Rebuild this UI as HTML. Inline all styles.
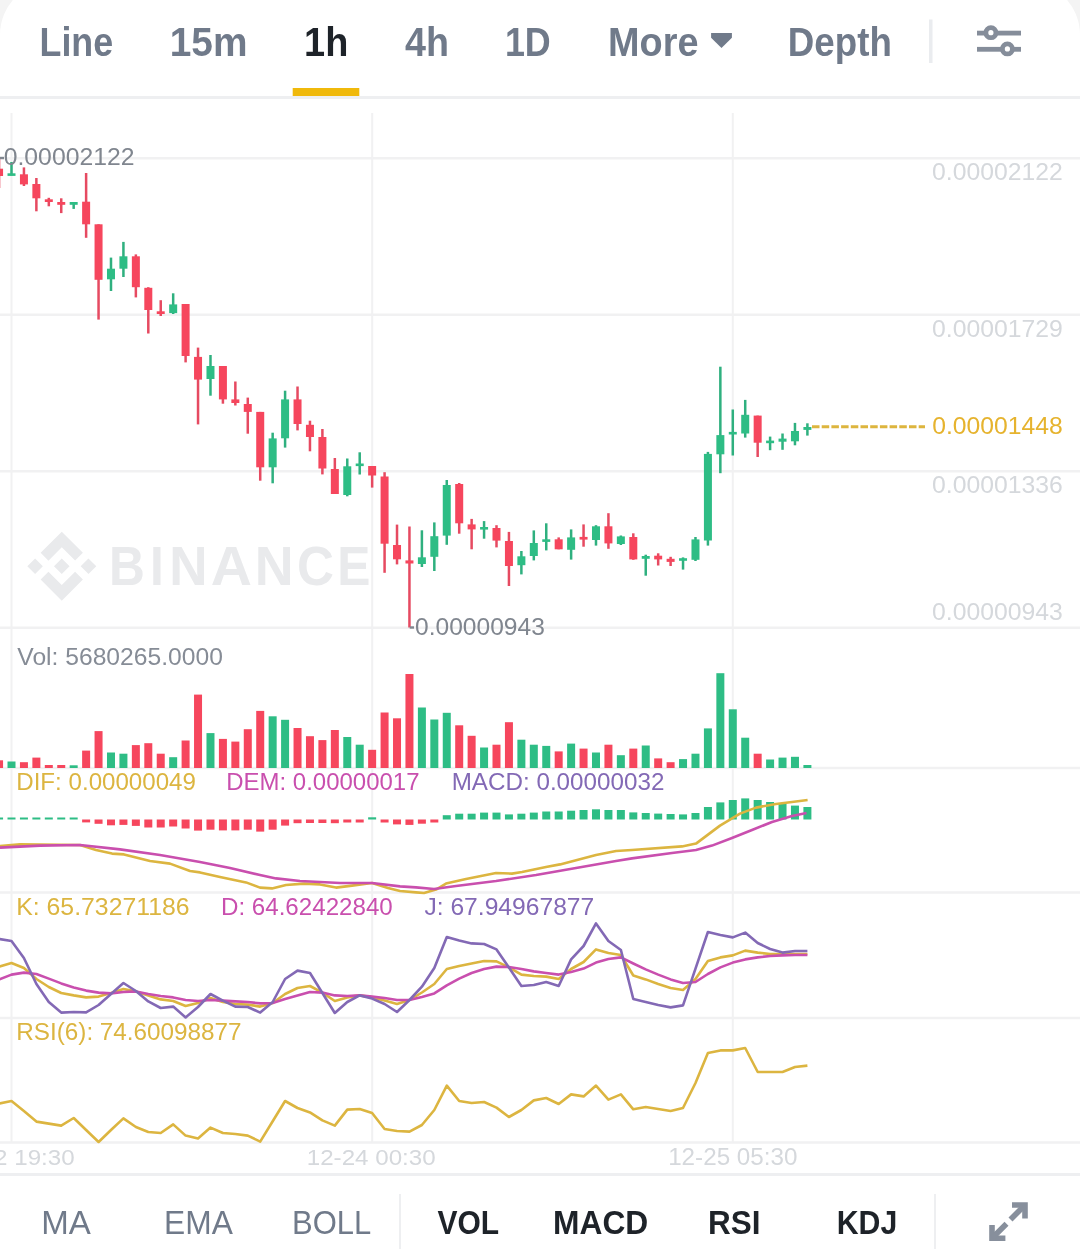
<!DOCTYPE html>
<html><head><meta charset="utf-8">
<style>
html,body{margin:0;padding:0;}
body{width:1080px;height:1259px;position:relative;overflow:hidden;background:#f4f4f4;}
#card{position:absolute;left:0;top:-19px;width:1080px;height:1278px;background:#fff;border-radius:54px 54px 0 0;}
svg.main{position:absolute;left:0;top:0;will-change:transform;}
.t{position:absolute;}
svg{position:absolute;left:0;top:0;}
text{font-family:"Liberation Sans",sans-serif;}
</style></head><body><div id="card"></div>
<svg class="main" width="1080" height="1259" viewBox="0 0 1080 1259">
<text transform="translate(108.99,585) scale(0.9029,1)" font-weight="bold" font-size="55" fill="#e9eaec">B</text>
<text transform="translate(150.1,585) scale(0.9,1)" font-weight="bold" font-size="55" fill="#e9eaec">I</text>
<text transform="translate(169.31,585) scale(0.9647,1)" font-weight="bold" font-size="55" fill="#e9eaec">N</text>
<text transform="translate(210.66,585) scale(1.0368,1)" font-weight="bold" font-size="55" fill="#e9eaec">A</text>
<text transform="translate(254.66,585) scale(0.9794,1)" font-weight="bold" font-size="55" fill="#e9eaec">N</text>
<text transform="translate(297.04,585) scale(0.9297,1)" font-weight="bold" font-size="55" fill="#e9eaec">C</text>
<text transform="translate(337.29,585) scale(0.9031,1)" font-weight="bold" font-size="55" fill="#e9eaec">E</text>
<line x1="0" y1="158.3" x2="1080" y2="158.3" stroke="#f1f1f2" stroke-width="2.4"/>
<line x1="0" y1="314.8" x2="1080" y2="314.8" stroke="#f1f1f2" stroke-width="2.4"/>
<line x1="0" y1="471.3" x2="1080" y2="471.3" stroke="#f1f1f2" stroke-width="2.4"/>
<line x1="0" y1="627.8" x2="1080" y2="627.8" stroke="#f1f1f2" stroke-width="2.4"/>
<line x1="0" y1="768" x2="1080" y2="768" stroke="#f1f1f2" stroke-width="2.4"/>
<line x1="0" y1="892.5" x2="1080" y2="892.5" stroke="#f1f1f2" stroke-width="2.4"/>
<line x1="0" y1="1018" x2="1080" y2="1018" stroke="#f1f1f2" stroke-width="2.4"/>
<line x1="0" y1="1142.5" x2="1080" y2="1142.5" stroke="#f1f1f2" stroke-width="2.4"/>
<line x1="11.5" y1="113" x2="11.5" y2="1142.5" stroke="#f1f1f2" stroke-width="2"/>
<line x1="372.2" y1="113" x2="372.2" y2="1142.5" stroke="#f1f1f2" stroke-width="2"/>
<line x1="732.8" y1="113" x2="732.8" y2="1142.5" stroke="#f1f1f2" stroke-width="2"/>
<g transform="translate(27.3,531.7) scale(2.875)" fill="#e9eaec"><path d="M16.624 13.9202l2.7175 2.7154-7.353 7.353-7.353-7.352 2.7175-2.7164 4.6355 4.6595 4.6356-4.6595zm4.6366-4.6366L24 12l-2.7154 2.7164L18.5682 12l2.6924-2.7164zm-9.272.001l2.7163 2.6914-2.7164 2.7174v-.001L9.2721 12l2.7164-2.7154zm-9.2722-.001L5.4088 12l-2.6914 2.6924L0 12l2.7164-2.7164zM11.9885.0115l7.353 7.329-2.7174 2.7154-4.6356-4.6356-4.6355 4.6595-2.7174-2.7154 7.353-7.353z"/></g>
<rect x="-2.19" y="158.5" width="2.5" height="29.5" fill="#e64a61"/>
<rect x="-4.94" y="168.7" width="8" height="7.3" fill="#f6465d"/>
<rect x="10.25" y="162.0" width="2.5" height="13.5" fill="#2fb07f"/>
<rect x="7.50" y="173.3" width="8" height="2.6" fill="#2ebd85"/>
<rect x="22.69" y="167.4" width="2.5" height="18.6" fill="#e64a61"/>
<rect x="19.94" y="174.3" width="8" height="10.1" fill="#f6465d"/>
<rect x="35.12" y="178.0" width="2.5" height="33.3" fill="#e64a61"/>
<rect x="32.37" y="184.0" width="8" height="14.3" fill="#f6465d"/>
<rect x="47.56" y="197.8" width="2.5" height="8.5" fill="#e64a61"/>
<rect x="44.81" y="199.3" width="8" height="2.7" fill="#f6465d"/>
<rect x="59.99" y="198.3" width="2.5" height="14.8" fill="#e64a61"/>
<rect x="57.24" y="202.0" width="8" height="2.8" fill="#f6465d"/>
<rect x="72.43" y="202.0" width="2.5" height="6.9" fill="#2fb07f"/>
<rect x="69.68" y="202.0" width="8" height="2.8" fill="#2ebd85"/>
<rect x="84.87" y="173.0" width="2.5" height="64.8" fill="#e64a61"/>
<rect x="82.12" y="201.7" width="8" height="22.6" fill="#f6465d"/>
<rect x="97.30" y="224.3" width="2.5" height="95.3" fill="#e64a61"/>
<rect x="94.55" y="224.3" width="8" height="55.5" fill="#f6465d"/>
<rect x="109.74" y="257.6" width="2.5" height="33.4" fill="#2fb07f"/>
<rect x="106.99" y="268.7" width="8" height="10.6" fill="#2ebd85"/>
<rect x="122.17" y="241.9" width="2.5" height="35.1" fill="#2fb07f"/>
<rect x="119.42" y="256.3" width="8" height="12.4" fill="#2ebd85"/>
<rect x="134.61" y="254.4" width="2.5" height="43.0" fill="#e64a61"/>
<rect x="131.86" y="256.3" width="8" height="30.9" fill="#f6465d"/>
<rect x="147.05" y="287.2" width="2.5" height="46.3" fill="#e64a61"/>
<rect x="144.30" y="287.8" width="8" height="22.2" fill="#f6465d"/>
<rect x="159.48" y="300.2" width="2.5" height="15.8" fill="#e64a61"/>
<rect x="156.73" y="311.3" width="8" height="2.7" fill="#f6465d"/>
<rect x="171.92" y="293.3" width="2.5" height="20.7" fill="#2fb07f"/>
<rect x="169.17" y="304.4" width="8" height="8.7" fill="#2ebd85"/>
<rect x="184.35" y="304.0" width="2.5" height="58.4" fill="#e64a61"/>
<rect x="181.60" y="304.0" width="8" height="52.0" fill="#f6465d"/>
<rect x="196.79" y="347.6" width="2.5" height="76.8" fill="#e64a61"/>
<rect x="194.04" y="356.9" width="8" height="22.7" fill="#f6465d"/>
<rect x="209.23" y="355.0" width="2.5" height="40.7" fill="#2fb07f"/>
<rect x="206.48" y="366.0" width="8" height="13.0" fill="#2ebd85"/>
<rect x="221.66" y="366.0" width="2.5" height="37.7" fill="#e64a61"/>
<rect x="218.91" y="366.0" width="8" height="33.4" fill="#f6465d"/>
<rect x="234.10" y="381.5" width="2.5" height="24.0" fill="#e64a61"/>
<rect x="231.35" y="399.4" width="8" height="3.6" fill="#f6465d"/>
<rect x="246.53" y="397.6" width="2.5" height="36.1" fill="#e64a61"/>
<rect x="243.78" y="404.0" width="8" height="7.9" fill="#f6465d"/>
<rect x="258.97" y="411.9" width="2.5" height="68.8" fill="#e64a61"/>
<rect x="256.22" y="411.9" width="8" height="55.4" fill="#f6465d"/>
<rect x="271.41" y="432.7" width="2.5" height="50.6" fill="#2fb07f"/>
<rect x="268.66" y="438.4" width="8" height="28.9" fill="#2ebd85"/>
<rect x="283.84" y="390.7" width="2.5" height="56.9" fill="#2fb07f"/>
<rect x="281.09" y="399.4" width="8" height="38.9" fill="#2ebd85"/>
<rect x="296.28" y="386.5" width="2.5" height="43.9" fill="#e64a61"/>
<rect x="293.53" y="399.4" width="8" height="24.6" fill="#f6465d"/>
<rect x="308.71" y="420.7" width="2.5" height="30.6" fill="#e64a61"/>
<rect x="305.96" y="424.8" width="8" height="12.2" fill="#f6465d"/>
<rect x="321.15" y="429.0" width="2.5" height="45.4" fill="#e64a61"/>
<rect x="318.40" y="437.0" width="8" height="31.5" fill="#f6465d"/>
<rect x="333.59" y="458.0" width="2.5" height="36.0" fill="#e64a61"/>
<rect x="330.84" y="469.0" width="8" height="25.0" fill="#f6465d"/>
<rect x="346.02" y="458.5" width="2.5" height="37.8" fill="#2fb07f"/>
<rect x="343.27" y="466.3" width="8" height="28.7" fill="#2ebd85"/>
<rect x="358.46" y="452.3" width="2.5" height="22.2" fill="#2fb07f"/>
<rect x="355.71" y="463.5" width="8" height="2.6" fill="#2ebd85"/>
<rect x="370.89" y="466.0" width="2.5" height="21.6" fill="#e64a61"/>
<rect x="368.14" y="466.0" width="8" height="9.5" fill="#f6465d"/>
<rect x="383.33" y="472.2" width="2.5" height="100.6" fill="#e64a61"/>
<rect x="380.58" y="476.5" width="8" height="67.2" fill="#f6465d"/>
<rect x="395.77" y="524.6" width="2.5" height="39.8" fill="#e64a61"/>
<rect x="393.02" y="545.0" width="8" height="14.3" fill="#f6465d"/>
<rect x="408.20" y="526.5" width="2.5" height="101.0" fill="#e64a61"/>
<rect x="405.45" y="560.4" width="8" height="3.1" fill="#f6465d"/>
<rect x="420.64" y="530.3" width="2.5" height="36.7" fill="#2fb07f"/>
<rect x="417.89" y="557.3" width="8" height="6.7" fill="#2ebd85"/>
<rect x="433.07" y="522.4" width="2.5" height="48.6" fill="#2fb07f"/>
<rect x="430.32" y="536.2" width="8" height="20.6" fill="#2ebd85"/>
<rect x="445.51" y="480.0" width="2.5" height="64.8" fill="#2fb07f"/>
<rect x="442.76" y="485.0" width="8" height="50.6" fill="#2ebd85"/>
<rect x="457.95" y="483.0" width="2.5" height="50.7" fill="#e64a61"/>
<rect x="455.20" y="484.0" width="8" height="39.3" fill="#f6465d"/>
<rect x="470.38" y="518.9" width="2.5" height="30.4" fill="#e64a61"/>
<rect x="467.63" y="524.4" width="8" height="5.0" fill="#f6465d"/>
<rect x="482.82" y="521.1" width="2.5" height="17.6" fill="#2fb07f"/>
<rect x="480.07" y="527.0" width="8" height="2.6" fill="#2ebd85"/>
<rect x="495.25" y="525.2" width="2.5" height="22.2" fill="#e64a61"/>
<rect x="492.50" y="528.0" width="8" height="12.6" fill="#f6465d"/>
<rect x="507.69" y="531.9" width="2.5" height="54.1" fill="#e64a61"/>
<rect x="504.94" y="541.0" width="8" height="25.0" fill="#f6465d"/>
<rect x="520.13" y="551.0" width="2.5" height="23.4" fill="#2fb07f"/>
<rect x="517.38" y="556.3" width="8" height="8.9" fill="#2ebd85"/>
<rect x="532.56" y="530.4" width="2.5" height="30.0" fill="#2fb07f"/>
<rect x="529.81" y="543.0" width="8" height="13.0" fill="#2ebd85"/>
<rect x="545.00" y="523.3" width="2.5" height="27.1" fill="#2fb07f"/>
<rect x="542.25" y="539.3" width="8" height="2.6" fill="#2ebd85"/>
<rect x="557.43" y="537.4" width="2.5" height="11.9" fill="#e64a61"/>
<rect x="554.68" y="539.3" width="8" height="10.0" fill="#f6465d"/>
<rect x="569.87" y="529.4" width="2.5" height="30.2" fill="#2fb07f"/>
<rect x="567.12" y="537.4" width="8" height="12.4" fill="#2ebd85"/>
<rect x="582.31" y="524.4" width="2.5" height="22.3" fill="#e64a61"/>
<rect x="579.56" y="536.9" width="8" height="2.7" fill="#f6465d"/>
<rect x="594.74" y="525.2" width="2.5" height="20.4" fill="#2fb07f"/>
<rect x="591.99" y="526.3" width="8" height="13.7" fill="#2ebd85"/>
<rect x="607.18" y="513.2" width="2.5" height="35.6" fill="#e64a61"/>
<rect x="604.43" y="526.3" width="8" height="17.1" fill="#f6465d"/>
<rect x="619.61" y="535.5" width="2.5" height="9.5" fill="#2fb07f"/>
<rect x="616.86" y="536.4" width="8" height="7.6" fill="#2ebd85"/>
<rect x="632.05" y="533.3" width="2.5" height="26.5" fill="#e64a61"/>
<rect x="629.30" y="537.0" width="8" height="22.4" fill="#f6465d"/>
<rect x="644.49" y="554.7" width="2.5" height="21.0" fill="#2fb07f"/>
<rect x="641.74" y="556.0" width="8" height="2.8" fill="#2ebd85"/>
<rect x="656.92" y="553.3" width="2.5" height="12.2" fill="#e64a61"/>
<rect x="654.17" y="555.7" width="8" height="3.7" fill="#f6465d"/>
<rect x="669.36" y="556.8" width="2.5" height="9.2" fill="#e64a61"/>
<rect x="666.61" y="558.8" width="8" height="3.1" fill="#f6465d"/>
<rect x="681.79" y="557.4" width="2.5" height="12.2" fill="#2fb07f"/>
<rect x="679.04" y="558.2" width="8" height="2.6" fill="#2ebd85"/>
<rect x="694.23" y="537.0" width="2.5" height="24.0" fill="#2fb07f"/>
<rect x="691.48" y="539.4" width="8" height="20.4" fill="#2ebd85"/>
<rect x="706.67" y="451.9" width="2.5" height="93.7" fill="#2fb07f"/>
<rect x="703.92" y="453.9" width="8" height="86.6" fill="#2ebd85"/>
<rect x="719.10" y="366.7" width="2.5" height="106.5" fill="#2fb07f"/>
<rect x="716.35" y="435.1" width="8" height="19.2" fill="#2ebd85"/>
<rect x="731.54" y="409.5" width="2.5" height="46.0" fill="#2fb07f"/>
<rect x="728.79" y="431.9" width="8" height="2.6" fill="#2ebd85"/>
<rect x="743.97" y="399.9" width="2.5" height="37.7" fill="#2fb07f"/>
<rect x="741.22" y="414.8" width="8" height="18.7" fill="#2ebd85"/>
<rect x="756.41" y="415.6" width="2.5" height="41.4" fill="#e64a61"/>
<rect x="753.66" y="415.6" width="8" height="27.1" fill="#f6465d"/>
<rect x="768.85" y="436.6" width="2.5" height="13.6" fill="#2fb07f"/>
<rect x="766.10" y="440.6" width="8" height="2.6" fill="#2ebd85"/>
<rect x="781.28" y="433.5" width="2.5" height="16.3" fill="#2fb07f"/>
<rect x="778.53" y="438.6" width="8" height="3.1" fill="#2ebd85"/>
<rect x="793.72" y="422.9" width="2.5" height="22.4" fill="#2fb07f"/>
<rect x="790.97" y="431.0" width="8" height="10.3" fill="#2ebd85"/>
<rect x="806.15" y="423.3" width="2.5" height="12.3" fill="#2fb07f"/>
<rect x="803.40" y="427.0" width="8" height="2.9" fill="#2ebd85"/>
<rect x="-4.94" y="760.3" width="8" height="7.7" fill="#f6465d"/>
<rect x="7.50" y="761.5" width="8" height="6.5" fill="#2ebd85"/>
<rect x="19.94" y="762.2" width="8" height="5.8" fill="#f6465d"/>
<rect x="32.37" y="757.6" width="8" height="10.4" fill="#f6465d"/>
<rect x="44.81" y="765.0" width="8" height="3.0" fill="#f6465d"/>
<rect x="57.24" y="765.0" width="8" height="3.0" fill="#f6465d"/>
<rect x="69.68" y="765.3" width="8" height="2.7" fill="#2ebd85"/>
<rect x="82.12" y="750.6" width="8" height="17.4" fill="#f6465d"/>
<rect x="94.55" y="731.1" width="8" height="36.9" fill="#f6465d"/>
<rect x="106.99" y="752.5" width="8" height="15.5" fill="#2ebd85"/>
<rect x="119.42" y="753.7" width="8" height="14.3" fill="#2ebd85"/>
<rect x="131.86" y="745.1" width="8" height="22.9" fill="#f6465d"/>
<rect x="144.30" y="743.2" width="8" height="24.8" fill="#f6465d"/>
<rect x="156.73" y="753.7" width="8" height="14.3" fill="#f6465d"/>
<rect x="169.17" y="757.2" width="8" height="10.8" fill="#2ebd85"/>
<rect x="181.60" y="740.5" width="8" height="27.5" fill="#f6465d"/>
<rect x="194.04" y="694.6" width="8" height="73.4" fill="#f6465d"/>
<rect x="206.48" y="733.1" width="8" height="34.9" fill="#2ebd85"/>
<rect x="218.91" y="738.9" width="8" height="29.1" fill="#f6465d"/>
<rect x="231.35" y="741.6" width="8" height="26.4" fill="#f6465d"/>
<rect x="243.78" y="729.2" width="8" height="38.8" fill="#f6465d"/>
<rect x="256.22" y="710.9" width="8" height="57.1" fill="#f6465d"/>
<rect x="268.66" y="716.3" width="8" height="51.7" fill="#2ebd85"/>
<rect x="281.09" y="719.8" width="8" height="48.2" fill="#2ebd85"/>
<rect x="293.53" y="728.0" width="8" height="40.0" fill="#f6465d"/>
<rect x="305.96" y="736.2" width="8" height="31.8" fill="#f6465d"/>
<rect x="318.40" y="740.1" width="8" height="27.9" fill="#f6465d"/>
<rect x="330.84" y="730.0" width="8" height="38.0" fill="#f6465d"/>
<rect x="343.27" y="737.0" width="8" height="31.0" fill="#2ebd85"/>
<rect x="355.71" y="744.7" width="8" height="23.3" fill="#2ebd85"/>
<rect x="368.14" y="749.8" width="8" height="18.2" fill="#f6465d"/>
<rect x="380.58" y="712.5" width="8" height="55.5" fill="#f6465d"/>
<rect x="393.02" y="718.3" width="8" height="49.7" fill="#f6465d"/>
<rect x="405.45" y="674.0" width="8" height="94.0" fill="#f6465d"/>
<rect x="417.89" y="707.5" width="8" height="60.5" fill="#2ebd85"/>
<rect x="430.32" y="719.5" width="8" height="48.5" fill="#2ebd85"/>
<rect x="442.76" y="712.8" width="8" height="55.2" fill="#2ebd85"/>
<rect x="455.20" y="725.3" width="8" height="42.7" fill="#f6465d"/>
<rect x="467.63" y="735.8" width="8" height="32.2" fill="#f6465d"/>
<rect x="480.07" y="747.5" width="8" height="20.5" fill="#2ebd85"/>
<rect x="492.50" y="744.7" width="8" height="23.3" fill="#f6465d"/>
<rect x="504.94" y="722.2" width="8" height="45.8" fill="#f6465d"/>
<rect x="517.38" y="739.7" width="8" height="28.3" fill="#2ebd85"/>
<rect x="529.81" y="744.7" width="8" height="23.3" fill="#2ebd85"/>
<rect x="542.25" y="745.9" width="8" height="22.1" fill="#2ebd85"/>
<rect x="554.68" y="751.4" width="8" height="16.6" fill="#f6465d"/>
<rect x="567.12" y="743.6" width="8" height="24.4" fill="#2ebd85"/>
<rect x="579.56" y="748.6" width="8" height="19.4" fill="#f6465d"/>
<rect x="591.99" y="752.5" width="8" height="15.5" fill="#2ebd85"/>
<rect x="604.43" y="744.7" width="8" height="23.3" fill="#f6465d"/>
<rect x="616.86" y="755.2" width="8" height="12.8" fill="#2ebd85"/>
<rect x="629.30" y="748.6" width="8" height="19.4" fill="#f6465d"/>
<rect x="641.74" y="745.5" width="8" height="22.5" fill="#2ebd85"/>
<rect x="654.17" y="758.4" width="8" height="9.6" fill="#f6465d"/>
<rect x="666.61" y="762.2" width="8" height="5.8" fill="#f6465d"/>
<rect x="679.04" y="759.1" width="8" height="8.9" fill="#2ebd85"/>
<rect x="691.48" y="753.7" width="8" height="14.3" fill="#2ebd85"/>
<rect x="703.92" y="728.4" width="8" height="39.6" fill="#2ebd85"/>
<rect x="716.35" y="673.2" width="8" height="94.8" fill="#2ebd85"/>
<rect x="728.79" y="709.3" width="8" height="58.7" fill="#2ebd85"/>
<rect x="741.22" y="737.7" width="8" height="30.3" fill="#2ebd85"/>
<rect x="753.66" y="753.7" width="8" height="14.3" fill="#f6465d"/>
<rect x="766.10" y="759.5" width="8" height="8.5" fill="#2ebd85"/>
<rect x="778.53" y="757.6" width="8" height="10.4" fill="#2ebd85"/>
<rect x="790.97" y="756.8" width="8" height="11.2" fill="#2ebd85"/>
<rect x="803.40" y="765.0" width="8" height="3.0" fill="#2ebd85"/>
<rect x="-4.94" y="817.5" width="8" height="2.0" fill="#2ebd85"/>
<rect x="7.50" y="817.5" width="8" height="2.0" fill="#2ebd85"/>
<rect x="19.94" y="817.5" width="8" height="2.0" fill="#2ebd85"/>
<rect x="32.37" y="817.5" width="8" height="2.0" fill="#2ebd85"/>
<rect x="44.81" y="817.5" width="8" height="2.0" fill="#2ebd85"/>
<rect x="57.24" y="817.5" width="8" height="2.0" fill="#2ebd85"/>
<rect x="69.68" y="817.5" width="8" height="2.0" fill="#2ebd85"/>
<rect x="82.12" y="819.5" width="8" height="2.9" fill="#f6465d"/>
<rect x="94.55" y="819.5" width="8" height="4.3" fill="#f6465d"/>
<rect x="106.99" y="819.5" width="8" height="5.8" fill="#f6465d"/>
<rect x="119.42" y="819.5" width="8" height="5.4" fill="#f6465d"/>
<rect x="131.86" y="819.5" width="8" height="6.4" fill="#f6465d"/>
<rect x="144.30" y="819.5" width="8" height="8.0" fill="#f6465d"/>
<rect x="156.73" y="819.5" width="8" height="8.0" fill="#f6465d"/>
<rect x="169.17" y="819.5" width="8" height="7.0" fill="#f6465d"/>
<rect x="181.60" y="819.5" width="8" height="9.0" fill="#f6465d"/>
<rect x="194.04" y="819.5" width="8" height="11.1" fill="#f6465d"/>
<rect x="206.48" y="819.5" width="8" height="10.2" fill="#f6465d"/>
<rect x="218.91" y="819.5" width="8" height="10.9" fill="#f6465d"/>
<rect x="231.35" y="819.5" width="8" height="10.9" fill="#f6465d"/>
<rect x="243.78" y="819.5" width="8" height="10.2" fill="#f6465d"/>
<rect x="256.22" y="819.5" width="8" height="12.1" fill="#f6465d"/>
<rect x="268.66" y="819.5" width="8" height="10.2" fill="#f6465d"/>
<rect x="281.09" y="819.5" width="8" height="6.1" fill="#f6465d"/>
<rect x="293.53" y="819.5" width="8" height="3.7" fill="#f6465d"/>
<rect x="305.96" y="819.5" width="8" height="3.5" fill="#f6465d"/>
<rect x="318.40" y="819.5" width="8" height="3.5" fill="#f6465d"/>
<rect x="330.84" y="819.5" width="8" height="3.7" fill="#f6465d"/>
<rect x="343.27" y="819.5" width="8" height="3.0" fill="#f6465d"/>
<rect x="355.71" y="819.5" width="8" height="3.0" fill="#f6465d"/>
<rect x="368.14" y="817.3" width="8" height="2.2" fill="#2ebd85"/>
<rect x="380.58" y="819.5" width="8" height="3.0" fill="#f6465d"/>
<rect x="393.02" y="819.5" width="8" height="4.9" fill="#f6465d"/>
<rect x="405.45" y="819.5" width="8" height="5.4" fill="#f6465d"/>
<rect x="417.89" y="819.5" width="8" height="4.2" fill="#f6465d"/>
<rect x="430.32" y="819.5" width="8" height="3.0" fill="#f6465d"/>
<rect x="442.76" y="815.2" width="8" height="4.3" fill="#2ebd85"/>
<rect x="455.20" y="813.7" width="8" height="5.8" fill="#2ebd85"/>
<rect x="467.63" y="813.7" width="8" height="5.8" fill="#2ebd85"/>
<rect x="480.07" y="812.6" width="8" height="6.9" fill="#2ebd85"/>
<rect x="492.50" y="812.6" width="8" height="6.9" fill="#2ebd85"/>
<rect x="504.94" y="814.4" width="8" height="5.1" fill="#2ebd85"/>
<rect x="517.38" y="813.7" width="8" height="5.8" fill="#2ebd85"/>
<rect x="529.81" y="812.6" width="8" height="6.9" fill="#2ebd85"/>
<rect x="542.25" y="811.5" width="8" height="8.0" fill="#2ebd85"/>
<rect x="554.68" y="811.5" width="8" height="8.0" fill="#2ebd85"/>
<rect x="567.12" y="810.7" width="8" height="8.8" fill="#2ebd85"/>
<rect x="579.56" y="810.0" width="8" height="9.5" fill="#2ebd85"/>
<rect x="591.99" y="809.3" width="8" height="10.2" fill="#2ebd85"/>
<rect x="604.43" y="810.0" width="8" height="9.5" fill="#2ebd85"/>
<rect x="616.86" y="810.0" width="8" height="9.5" fill="#2ebd85"/>
<rect x="629.30" y="812.4" width="8" height="7.1" fill="#2ebd85"/>
<rect x="641.74" y="813.0" width="8" height="6.5" fill="#2ebd85"/>
<rect x="654.17" y="813.6" width="8" height="5.9" fill="#2ebd85"/>
<rect x="666.61" y="814.0" width="8" height="5.5" fill="#2ebd85"/>
<rect x="679.04" y="814.4" width="8" height="5.1" fill="#2ebd85"/>
<rect x="691.48" y="813.0" width="8" height="6.5" fill="#2ebd85"/>
<rect x="703.92" y="807.0" width="8" height="12.5" fill="#2ebd85"/>
<rect x="716.35" y="802.4" width="8" height="17.1" fill="#2ebd85"/>
<rect x="728.79" y="800.0" width="8" height="19.5" fill="#2ebd85"/>
<rect x="741.22" y="798.4" width="8" height="21.1" fill="#2ebd85"/>
<rect x="753.66" y="800.0" width="8" height="19.5" fill="#2ebd85"/>
<rect x="766.10" y="802.0" width="8" height="17.5" fill="#2ebd85"/>
<rect x="778.53" y="803.6" width="8" height="15.9" fill="#2ebd85"/>
<rect x="790.97" y="805.6" width="8" height="13.9" fill="#2ebd85"/>
<rect x="803.40" y="807.0" width="8" height="12.5" fill="#2ebd85"/>
<polyline points="0.0,846.0 20.0,844.4 80.0,845.0 96.0,850.0 112.0,853.6 124.0,854.4 150.0,861.0 170.0,863.6 190.0,871.0 200.0,872.4 220.0,877.0 246.0,882.4 260.0,887.6 272.0,888.4 286.0,885.0 304.0,883.6 320.0,884.4 336.0,887.6 352.0,885.6 372.0,883.0 388.0,888.0 400.0,891.0 416.0,892.4 424.0,893.0 436.0,889.6 446.0,883.6 466.0,879.0 496.0,873.0 512.0,873.6 522.0,872.0 546.0,867.0 560.0,864.4 596.0,855.0 616.0,851.0 632.0,850.0 682.0,846.4 696.0,843.6 720.0,825.6 740.0,813.6 756.0,807.6 776.0,804.0 792.0,802.0 807.6,800.0" fill="none" stroke="#dcb540" stroke-width="2.6" stroke-linejoin="round"/>
<polyline points="0.0,847.6 40.0,845.6 80.0,845.0 120.0,849.4 160.0,855.0 200.0,862.0 230.0,868.0 260.0,875.0 276.0,878.4 300.0,881.0 340.0,883.0 372.0,883.0 400.0,886.4 416.0,887.4 434.0,889.0 456.0,886.0 496.0,881.0 536.0,875.0 576.0,868.0 616.0,861.0 632.0,858.4 672.0,853.0 696.0,850.0 712.0,845.6 732.0,838.0 752.0,830.0 772.0,822.0 792.0,816.0 806.5,813.0" fill="none" stroke="#c94fae" stroke-width="2.6" stroke-linejoin="round"/>
<polyline points="-0.9,966.6 11.5,963.0 23.9,968.0 36.4,979.0 48.8,987.0 61.2,993.0 73.7,995.4 86.1,997.4 98.6,996.6 111.0,993.0 123.4,989.0 135.9,991.4 148.3,995.4 160.7,999.4 173.2,1001.0 185.6,1006.0 198.0,1003.0 210.5,998.0 222.9,1002.0 235.3,1004.0 247.8,1004.6 260.2,1006.6 272.7,1003.0 285.1,994.0 297.5,988.0 310.0,986.0 322.4,992.6 334.8,1001.0 347.3,997.4 359.7,995.4 372.1,997.4 384.6,1000.6 397.0,1004.0 409.5,1000.0 421.9,992.5 434.3,984.0 446.8,969.0 459.2,966.0 471.6,963.4 484.1,961.0 496.5,961.4 508.9,967.4 521.4,974.6 533.8,976.0 546.2,976.6 558.7,979.0 571.1,969.0 583.6,962.0 596.0,949.4 608.4,953.0 620.9,955.0 633.3,975.5 645.7,979.4 658.2,984.0 670.6,988.0 683.0,990.0 695.5,979.0 707.9,961.0 720.4,957.4 732.8,955.4 745.2,950.6 757.7,952.6 770.1,954.0 782.5,954.0 795.0,954.0 807.4,954.0" fill="none" stroke="#dcb540" stroke-width="2.6" stroke-linejoin="round"/>
<polyline points="-0.9,979.4 11.5,974.6 23.9,972.6 36.4,974.0 48.8,978.6 61.2,983.4 73.7,987.4 86.1,990.6 98.6,992.6 111.0,993.4 123.4,992.0 135.9,991.4 148.3,994.0 160.7,996.0 173.2,997.4 185.6,1000.0 198.0,1001.0 210.5,1000.0 222.9,1000.6 235.3,1001.4 247.8,1002.0 260.2,1003.4 272.7,1003.0 285.1,999.0 297.5,995.4 310.0,992.0 322.4,992.6 334.8,995.4 347.3,996.0 359.7,995.4 372.1,996.6 384.6,998.0 397.0,1000.0 409.5,1000.0 421.9,997.0 434.3,993.4 446.8,985.4 459.2,978.6 471.6,973.0 484.1,969.0 496.5,966.6 508.9,967.0 521.4,969.0 533.8,971.4 546.2,973.0 558.7,974.6 571.1,972.0 583.6,968.6 596.0,962.6 608.4,959.0 620.9,957.4 633.3,963.5 645.7,969.4 658.2,974.6 670.6,979.4 683.0,983.0 695.5,982.0 707.9,974.0 720.4,967.4 732.8,962.6 745.2,959.4 757.7,957.4 770.1,956.0 782.5,955.4 795.0,955.0 807.4,955.0" fill="none" stroke="#c94fae" stroke-width="2.6" stroke-linejoin="round"/>
<polyline points="-0.9,939.0 11.5,941.0 23.9,958.0 36.4,984.0 48.8,1002.0 61.2,1012.6 73.7,1012.0 86.1,1012.4 98.6,1005.0 111.0,994.0 123.4,983.0 135.9,991.0 148.3,1001.4 160.7,1008.0 173.2,1006.6 185.6,1017.4 198.0,1007.0 210.5,994.0 222.9,1000.6 235.3,1006.6 247.8,1007.0 260.2,1012.6 272.7,1002.0 285.1,979.0 297.5,970.6 310.0,973.0 322.4,993.0 334.8,1013.0 347.3,1002.0 359.7,995.4 372.1,998.6 384.6,1004.0 397.0,1012.0 409.5,1000.0 421.9,986.7 434.3,968.0 446.8,937.0 459.2,940.6 471.6,943.4 484.1,944.0 496.5,949.4 508.9,967.4 521.4,986.0 533.8,985.0 546.2,982.0 558.7,986.0 571.1,959.4 583.6,946.0 596.0,923.4 608.4,941.0 620.9,950.0 633.3,999.0 645.7,1002.0 658.2,1005.0 670.6,1007.4 683.0,1005.4 695.5,968.6 707.9,932.0 720.4,935.0 732.8,937.4 745.2,932.6 757.7,943.0 770.1,949.0 782.5,952.6 795.0,951.0 807.4,951.0" fill="none" stroke="#8369b5" stroke-width="2.6" stroke-linejoin="round"/>
<polyline points="-0.9,1103.5 11.5,1101.0 23.9,1111.0 36.4,1121.6 48.8,1123.6 61.2,1125.6 73.7,1118.0 86.1,1130.0 98.6,1142.0 111.0,1130.0 123.4,1118.4 135.9,1127.0 148.3,1132.0 160.7,1133.0 173.2,1124.4 185.6,1135.6 198.0,1138.4 210.5,1127.6 222.9,1133.0 235.3,1134.0 247.8,1135.6 260.2,1141.6 272.7,1121.2 285.1,1101.0 297.5,1108.0 310.0,1112.4 322.4,1120.4 334.8,1125.6 347.3,1109.6 359.7,1109.0 372.1,1113.0 384.6,1129.0 397.0,1131.0 409.5,1131.6 421.9,1125.0 434.3,1110.0 446.8,1085.6 459.2,1101.0 471.6,1103.0 484.1,1102.0 496.5,1107.6 508.9,1117.0 521.4,1110.0 533.8,1100.4 546.2,1098.0 558.7,1104.0 571.1,1094.4 583.6,1096.4 596.0,1085.6 608.4,1099.6 620.9,1094.4 633.3,1109.3 645.7,1107.0 658.2,1109.0 670.6,1111.0 683.0,1108.0 695.5,1083.0 707.9,1053.0 720.4,1050.4 732.8,1050.4 745.2,1048.0 757.7,1072.0 770.1,1072.0 782.5,1072.0 795.0,1067.0 807.4,1065.6" fill="none" stroke="#dcb540" stroke-width="2.6" stroke-linejoin="round"/>
<line x1="812" y1="426.7" x2="925" y2="426.7" stroke="#ddb53e" stroke-width="3" stroke-dasharray="7.5 2.2"/>
<line x1="0" y1="158" x2="4" y2="158" stroke="#80868f" stroke-width="2.4"/>
<line x1="409.7" y1="627.5" x2="414" y2="627.5" stroke="#80868f" stroke-width="2.4"/>
<text transform="translate(39.51,56) scale(0.8952,1)" font-weight="bold" font-size="40" fill="#707a8a">Line</text>
<text transform="translate(169.76,56) scale(0.9713,1)" font-weight="bold" font-size="40" fill="#707a8a">15m</text>
<text transform="translate(304.11,56) scale(0.9468,1)" font-weight="bold" font-size="40" fill="#1e2329">1h</text>
<text transform="translate(405.0,56) scale(0.9425,1)" font-weight="bold" font-size="40" fill="#707a8a">4h</text>
<text transform="translate(504.91,56) scale(0.8975,1)" font-weight="bold" font-size="40" fill="#707a8a">1D</text>
<text transform="translate(608.11,56) scale(0.9456,1)" font-weight="bold" font-size="40" fill="#707a8a">More</text>
<text transform="translate(787.87,56) scale(0.9175,1)" font-weight="bold" font-size="40" fill="#707a8a">Depth</text>
<text transform="translate(3.7,165) scale(1.0769,1)" font-weight="normal" font-size="23" fill="#80868f">0.00002122</text>
<text transform="translate(415.0,635) scale(1.0686,1)" font-weight="normal" font-size="23" fill="#80868f">0.00000943</text>
<text transform="translate(932.0,179.5) scale(1.0769,1)" font-weight="normal" font-size="23" fill="#d5d8dc">0.00002122</text>
<text transform="translate(932.0,336.5) scale(1.0769,1)" font-weight="normal" font-size="23" fill="#d5d8dc">0.00001729</text>
<text transform="translate(932.2,434) scale(1.0752,1)" font-weight="normal" font-size="23" fill="#e6b32e">0.00001448</text>
<text transform="translate(932.0,493) scale(1.0769,1)" font-weight="normal" font-size="23" fill="#d5d8dc">0.00001336</text>
<text transform="translate(932.0,620) scale(1.0769,1)" font-weight="normal" font-size="23" fill="#d5d8dc">0.00000943</text>
<text transform="translate(17.3,664.5) scale(1.0724,1)" font-weight="normal" font-size="23" fill="#868c96">Vol: 5680265.0000</text>
<text transform="translate(16.25,789.75) scale(1.0492,1)" font-weight="normal" font-size="23" fill="#dcb540">DIF: 0.00000049</text>
<text transform="translate(226.26,789.75) scale(1.0424,1)" font-weight="normal" font-size="23" fill="#c94fae">DEM: 0.00000017</text>
<text transform="translate(451.65,789.75) scale(1.0538,1)" font-weight="normal" font-size="23" fill="#8369b5">MACD: 0.00000032</text>
<text transform="translate(16.22,915) scale(1.0797,1)" font-weight="normal" font-size="23" fill="#dcb540">K: 65.73271186</text>
<text transform="translate(220.95,915) scale(1.05,1)" font-weight="normal" font-size="23" fill="#c94fae">D: 64.62422840</text>
<text transform="translate(424.4,915) scale(1.0717,1)" font-weight="normal" font-size="23" fill="#8369b5">J: 67.94967877</text>
<text transform="translate(16.24,1040) scale(1.056,1)" font-weight="normal" font-size="23" fill="#dcb540">RSI(6): 74.60098877</text>
<text transform="translate(-54.25,1165.3) scale(1.0506,1)" font-weight="normal" font-size="23" fill="#d5d8dc">12-22 19:30</text>
<text transform="translate(306.75,1165.3) scale(1.0506,1)" font-weight="normal" font-size="23" fill="#d5d8dc">12-24 00:30</text>
<text transform="translate(668.15,1165.3) scale(1.0539,1)" font-weight="normal" font-size="23" fill="#d5d8dc">12-25 05:30</text>
<text transform="translate(41.3,1234) scale(1.0023,1)" font-weight="normal" font-size="33" fill="#707a8a">MA</text>
<text transform="translate(164.08,1234) scale(0.9612,1)" font-weight="normal" font-size="33" fill="#707a8a">EMA</text>
<text transform="translate(292.12,1234) scale(0.9387,1)" font-weight="normal" font-size="33" fill="#707a8a">BOLL</text>
<text transform="translate(437.5,1234) scale(0.9087,1)" font-weight="bold" font-size="33" fill="#1e2329">VOL</text>
<text transform="translate(553.08,1234) scale(0.962,1)" font-weight="bold" font-size="33" fill="#1e2329">MACD</text>
<text transform="translate(708.09,1234) scale(0.9539,1)" font-weight="bold" font-size="33" fill="#1e2329">RSI</text>
<text transform="translate(836.66,1234) scale(0.9176,1)" font-weight="bold" font-size="33" fill="#1e2329">KDJ</text>
<path d="M711.1 33 L731.9 33 L731.9 37.8 L721.5 48 L711.1 37.8 Z" fill="#707a8a"/>
<rect x="929" y="19.5" width="3.5" height="43.5" fill="#eaecef"/>
<g stroke="#858d9a" stroke-width="4.8" fill="none">
<line x1="977" y1="33.1" x2="985" y2="33.1"/><line x1="997" y1="33.1" x2="1021" y2="33.1"/><circle cx="990.9" cy="32.7" r="5.0"/>
<line x1="977" y1="49.3" x2="1002" y2="49.3"/><line x1="1013" y1="49.3" x2="1021" y2="49.3"/><circle cx="1007.4" cy="48.9" r="5.0"/>
</g>
<rect x="292.7" y="88" width="66.6" height="8" fill="#f0b90b"/>
<rect x="0" y="96" width="1080" height="3" fill="#eeeff1"/>
<rect x="0" y="1173" width="1080" height="3" fill="#eeeff1"/>
<rect x="399" y="1194" width="2" height="55" fill="#eeeff1"/>
<rect x="934" y="1194" width="2" height="55" fill="#eeeff1"/>
<g stroke="#878f9c" stroke-width="5.6" fill="none" stroke-linejoin="miter" stroke-linecap="butt">
<path d="M1012 1205 L1025 1205 L1025 1218.5"/><path d="M1024.5 1205.5 L1010.5 1219.5"/>
<path d="M992 1225 L992 1238.2 L1005.4 1238.2"/><path d="M992.5 1237.7 L1006.5 1223.7"/>
</g>
</svg>
</body></html>
